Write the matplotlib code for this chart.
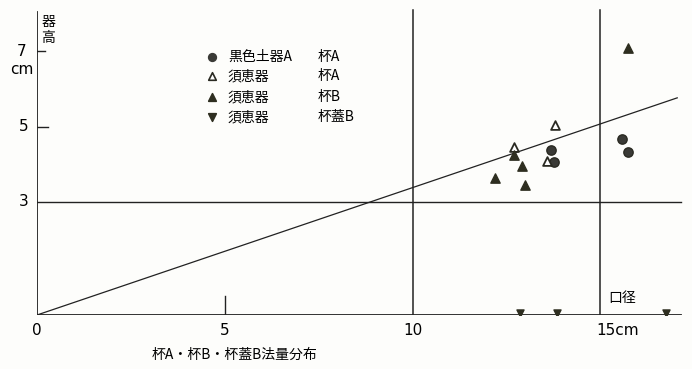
import matplotlib
matplotlib.use("Agg")
import matplotlib.pyplot as plt
import numpy as np

plt.rcParams['font.family'] = ['Noto Sans CJK JP', 'DejaVu Sans']

# Data (diameter cm, height cm)
black_A_x = [13.69, 13.76, 15.59, 15.75]
black_A_y = [4.38, 4.05, 4.67, 4.32]
sue_A_x = [13.80, 12.69, 13.57]
sue_A_y = [5.04, 4.46, 4.08]
sue_B_x = [15.73, 12.69, 12.92, 12.21, 13.00]
sue_B_y = [7.07, 4.24, 3.96, 3.63, 3.45]
sue_lid_x = [12.85, 13.84, 16.76]
sue_lid_y = [0.05, 0.05, 0.05]
reg_x = [0.0, 17.05]
reg_y = [0.0, 5.76]

legend_rows = [("黒色土器A", "杯A"), ("須恵器", "杯A"), ("須恵器", "杯B"), ("須恵器", "杯蓋B")]
xtick_labels = ["0", "5", "10", "15cm"]
ytick_labels = ["3", "5", "7"]

W, H = 692, 369
fig = plt.figure(figsize=(W/100, H/100), dpi=100)
fig.patch.set_facecolor('#fdfdfb')
px_x = 37.55
px_y = 37.7
x0, y0 = 37, 315
xmax = 17.3
ax = fig.add_axes([x0/W, (H-y0)/H, xmax*px_x/W, y0/H])
ax.set_xlim(0, xmax)
ax.set_ylim(0, y0/px_y)
ax.axis('off')

lc = '#222222'
# axes
ax.plot([0, 0], [0, (y0-12)/px_y], color=lc, lw=1.3)
ax.plot([0, (681-x0)/px_x], [0, 0], color=lc, lw=1.3)
ax.plot([10, 10], [0, (y0-10)/px_y], color=lc, lw=1.1)
ax.plot([15, 15], [0, (y0-10)/px_y], color=lc, lw=1.1)
ax.plot([0, (681-x0)/px_x], [3, 3], color=lc, lw=1.0)
ax.plot(reg_x, reg_y, color=lc, lw=0.9)
# ticks
ax.plot([0, 0.22], [7, 7], color=lc, lw=1.0)
ax.plot([0, 0.28], [5, 5], color=lc, lw=1.0)
ax.plot([5, 5], [0, 0.5], color=lc, lw=1.0)

# markers
mc = '#2a2a22'
ax.scatter(black_A_x, black_A_y, marker='o', s=45, color='#3a3a36', edgecolor=mc, zorder=3)
ax.scatter(sue_A_x, sue_A_y, marker='^', s=40, facecolor='white', edgecolor=mc, linewidth=1.3, zorder=3)
ax.scatter(sue_B_x, sue_B_y, marker='^', s=45, color='#2e2e20', zorder=3)
ax.scatter(sue_lid_x, sue_lid_y, marker='v', s=26, color='#2e2e20', zorder=3)

# text
fs = 10
lx = (22 - x0) / px_x
ax.text(lx, 7, "7", ha='center', va='center', fontsize=11, family='DejaVu Sans')
ax.text(lx, (y0-70)/px_y, "cm", ha='center', va='center', fontsize=11, family='DejaVu Sans')
ax.text((24 - x0)/px_x, 5, "5", ha='center', va='center', fontsize=11, family='DejaVu Sans')
ax.text((24 - x0)/px_x, 3, "3", ha='center', va='center', fontsize=11, family='DejaVu Sans')
ax.text(0.3, (y0-22)/px_y, "器", ha='center', va='center', fontsize=fs)
ax.text(0.3, (y0-38)/px_y, "高", ha='center', va='center', fontsize=fs)

xt = [0, 5, 10, 15]
for xv, lab in zip(xt, xtick_labels):
    ha = 'left' if lab.endswith('cm') else 'center'
    ax.text(xv - (0.1 if ha == 'left' else 0), -0.4, lab, ha=ha, va='center', fontsize=11, family='DejaVu Sans')
ax.text(15.2, 0.45, "口径", ha='left', va='center', fontsize=fs)
fig.text(234/W, 1-355/H, "杯A・杯B・杯蓋B法量分布", ha='center', va='center', fontsize=fs)

# legend
leg_markers = [('o', '#3a3a36', '#3a3a36'), ('^', 'white', mc), ('^', '#2e2e20', '#2e2e20'), ('v', '#2e2e20', '#2e2e20')]
rows_y = [57, 76, 97, 117]
for (m, fc, ec), (a, b), ry in zip(leg_markers, legend_rows, rows_y):
    yy = (y0 - ry) / px_y
    ax.scatter([(212-x0)/px_x], [yy], marker=m, s=30, facecolor=fc, edgecolor=ec, linewidth=1.2)
    ax.text((228-x0)/px_x, yy, a, ha='left', va='center', fontsize=fs)
    ax.text((318-x0)/px_x, yy, b, ha='left', va='center', fontsize=fs)

fig.savefig("out.png", dpi=100, facecolor=fig.get_facecolor())
